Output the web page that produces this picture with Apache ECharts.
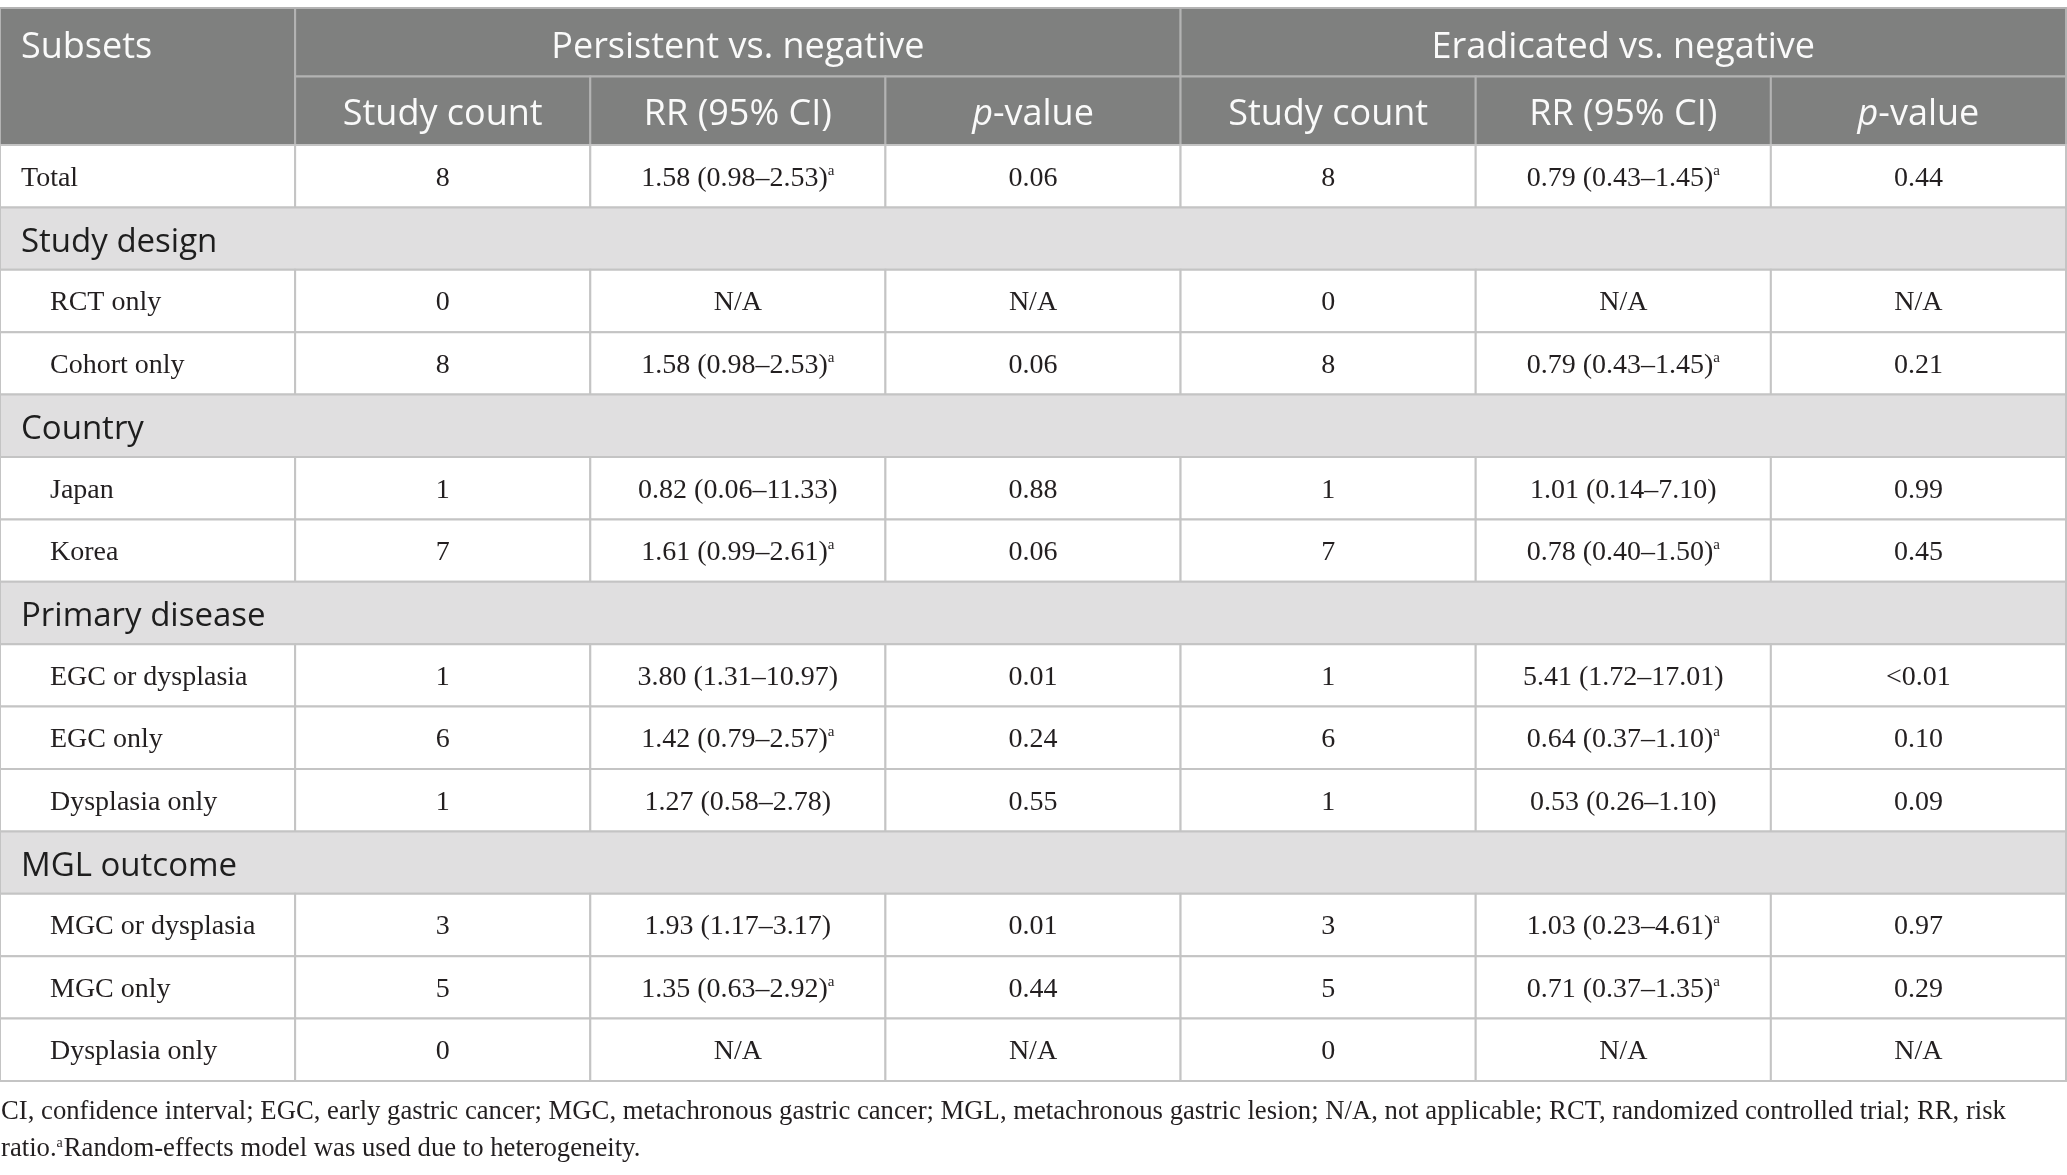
<!DOCTYPE html>
<html>
<head>
<meta charset="utf-8">
<script src="https://cdn.jsdelivr.net/npm/echarts@6/dist/echarts.min.js"></script>
<style>
  html, body { margin: 0; padding: 0; background: #fff; }
  #main { width: 2067px; height: 1175px; }
</style>
</head>
<body>
<div id="main"></div>
<script>
// table content
const columns = ['subset', 'pCount', 'pRR', 'pP', 'eCount', 'eRR', 'eP'];
const groupHeads = ['Persistent vs. negative', 'Eradicated vs. negative'];
const colHeads = ['Study count', 'RR (95% CI)', 'p-value'];
const subsets = ['Total', 'Study design', 'RCT only', 'Cohort only', 'Country', 'Japan', 'Korea',
  'Primary disease', 'EGC or dysplasia', 'EGC only', 'Dysplasia only',
  'MGL outcome', 'MGC or dysplasia', 'MGC only', 'Dysplasia only'];
const sections = ['Study design', 'Country', 'Primary disease', 'MGL outcome'];

const persistCount = ['8', '', '0', '8', '', '1', '7', '', '1', '6', '1', '', '3', '5', '0'];
const persistRR = ['1.58 (0.98–2.53)', '', 'N/A', '1.58 (0.98–2.53)', '', '0.82 (0.06–11.33)', '1.61 (0.99–2.61)',
  '', '3.80 (1.31–10.97)', '1.42 (0.79–2.57)', '1.27 (0.58–2.78)',
  '', '1.93 (1.17–3.17)', '1.35 (0.63–2.92)', 'N/A'];
const persistRandom = [1, 0, 0, 1, 0, 0, 1, 0, 0, 1, 0, 0, 0, 1, 0];
const persistP = ['0.06', '', 'N/A', '0.06', '', '0.88', '0.06', '', '0.01', '0.24', '0.55', '', '0.01', '0.44', 'N/A'];

const eradCount = ['8', '', '0', '8', '', '1', '7', '', '1', '6', '1', '', '3', '5', '0'];
const eradRR = ['0.79 (0.43–1.45)', '', 'N/A', '0.79 (0.43–1.45)', '', '1.01 (0.14–7.10)', '0.78 (0.40–1.50)',
  '', '5.41 (1.72–17.01)', '0.64 (0.37–1.10)', '0.53 (0.26–1.10)',
  '', '1.03 (0.23–4.61)', '0.71 (0.37–1.35)', 'N/A'];
const eradRandom = [1, 0, 0, 1, 0, 0, 1, 0, 0, 1, 0, 0, 1, 1, 0];
const eradP = ['0.44', '', 'N/A', '0.21', '', '0.99', '0.45', '', '<0.01', '0.10', '0.09', '', '0.97', '0.29', 'N/A'];

const footLine1 = 'CI, confidence interval; EGC, early gastric cancer; MGC, metachronous gastric cancer; MGL, metachronous gastric lesion; N/A, not applicable; RCT, randomized controlled trial; RR, risk';
const footLine2a = 'ratio.';
const footLine2b = 'Random-effects model was used due to heterogeneity.';

const SERIF = '"Liberation Serif", "Times New Roman", serif';
const SANS = '"Open Sans", "Noto Sans", sans-serif';
const INK = '#231f20';

// build cell lists
const headCells = [];
headCells.push({ col: 0, row: 0, span: 1, rows: 2, text: '{h|Subsets}', left: true, dy: 5 });
groupHeads.forEach((g, i) => headCells.push({ col: 1 + i * 3, row: 0, span: 3, rows: 1, text: '{h|' + g + '}', dy: 5 }));
[0, 1].forEach(g => colHeads.forEach((c, i) => {
  const t = c === 'p-value' ? '{hi|p}{h|-value}' : '{h|' + c + '}';
  headCells.push({ col: 1 + g * 3 + i, row: 1, span: 1, rows: 1, text: t, dy: 4 });
}));

const esc = s => s.replace(/[{}|]/g, '');
const withSup = (v, flag) => v ? '{n|' + esc(v) + '}' + (flag ? '{s|a}' : '') : '';

const bodyCells = [];
let inSection = false;
subsets.forEach((name, r) => {
  if (sections.includes(name)) {
    inSection = true;
    bodyCells.push({ col: 0, row: r, span: 7, section: true, text: '{sec|' + name + '}', left: true, dy: 4 });
    return;
  }
  bodyCells.push({ col: 0, row: r, span: 1, text: '{n|' + name + '}', left: true, indent: inSection, dy: 2 });
  const vals = [
    withSup(persistCount[r]), withSup(persistRR[r], persistRandom[r]), withSup(persistP[r]),
    withSup(eradCount[r]), withSup(eradRR[r], eradRandom[r]), withSup(eradP[r])
  ];
  vals.forEach((t, i) => bodyCells.push({ col: i + 1, row: r, span: 1, text: t, dy: 2 }));
});

const rich = {
  h: { fontFamily: SANS, fontSize: 36, fill: '#fafafa', lineHeight: 40 },
  hi: { fontFamily: SANS, fontSize: 36, fill: '#fafafa', lineHeight: 40, fontStyle: 'italic' },
  sec: { fontFamily: SANS, fontSize: 33, fill: '#1e1e1e', lineHeight: 40 },
  n: { fontFamily: SERIF, fontSize: 28, fill: INK, lineHeight: 30 },
  s: { fontFamily: SERIF, fontSize: 15, fill: INK, lineHeight: 15, verticalAlign: 'top' }
};

function makeRender(cells, fill, stroke) {
  return function (params, api) {
    const cell = cells[params.dataIndex];
    const p = api.coord([api.value(0), api.value(1)]);
    const s = api.size([1, 1]);
    const x = p[0] - s[0] / 2;
    const y = p[1] - s[1] / 2;
    const w = s[0] * cell.span;
    const h = s[1] * (cell.rows || 1);
    const tx = cell.left ? x + (cell.indent ? 50 : 21) : x + w / 2;
    return {
      type: 'group',
      children: [
        {
          type: 'rect',
          shape: { x: x, y: y, width: w, height: h },
          style: { fill: cell.section ? '#e0dfe0' : fill, stroke: stroke, lineWidth: 2 }
        },
        {
          type: 'text',
          x: tx,
          y: p[1] + (cell.dy || 0),
          style: {
            text: cell.text,
            align: cell.left ? 'left' : 'center',
            verticalAlign: 'middle',
            rich: rich
          }
        }
      ]
    };
  };
}

const chart = echarts.init(document.getElementById('main'));
chart.setOption({
  animation: false,
  backgroundColor: '#fff',
  title: {
    left: 1,
    top: 1093,
    padding: 0,
    text: '{f|' + footLine1 + '}\n{f|' + footLine2a + '}{fs|a}{f|' + footLine2b + '}',
    textStyle: {
      fontWeight: 'normal',
      rich: {
        f: { fontFamily: SERIF, fontSize: 26.7, fontWeight: 'normal', color: INK, lineHeight: 37 },
        fs: { fontFamily: SERIF, fontSize: 14, fontWeight: 'normal', color: INK, lineHeight: 37, verticalAlign: 'top', padding: [6, 1, 0, 0] }
      }
    }
  },
  grid: [
    { left: 0, right: 1, top: 8, height: 137 },
    { left: 0, right: 1, top: 145, height: 936 }
  ],
  xAxis: [
    { type: 'category', gridIndex: 0, data: columns, show: false },
    { type: 'category', gridIndex: 1, data: columns, show: false }
  ],
  yAxis: [
    { type: 'category', gridIndex: 0, data: ['group', 'column'], inverse: true, show: false },
    { type: 'category', gridIndex: 1, data: subsets.map((s, i) => i + ':' + s), inverse: true, show: false }
  ],
  series: [
    {
      type: 'custom',
      xAxisIndex: 0,
      yAxisIndex: 0,
      renderItem: makeRender(headCells, '#7f807f', '#b3b3b3'),
      data: headCells.map(c => [c.col, c.row]),
      silent: true
    },
    {
      type: 'custom',
      xAxisIndex: 1,
      yAxisIndex: 1,
      renderItem: makeRender(bodyCells, '#ffffff', '#c4c4c4'),
      data: bodyCells.map(c => [c.col, c.row]),
      silent: true
    }
  ]
});
</script>
</body>
</html>
